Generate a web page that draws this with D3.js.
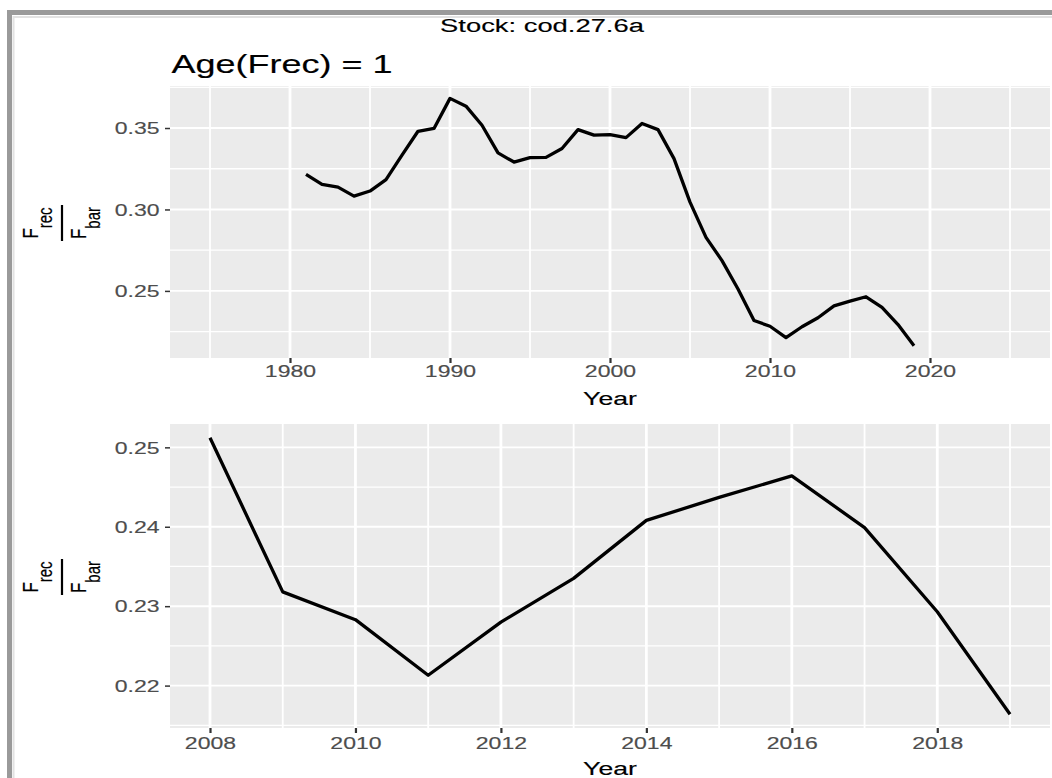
<!DOCTYPE html>
<html>
<head>
<meta charset="utf-8">
<script src="https://cdn.jsdelivr.net/npm/d3@7"></script>
<style>
  html, body { margin: 0; padding: 0; background: #fff; }
  svg { display: block; font-family: "Liberation Sans", Arial, sans-serif; }
</style>
</head>
<body>
<div id="chart"></div>
<script>
// Frec / Fbar by year, stock cod.27.6a, age 1
const years = [1981, 1982, 1983, 1984, 1985, 1986, 1987, 1988, 1989, 1990,
  1991, 1992, 1993, 1994, 1995, 1996, 1997, 1998, 1999, 2000,
  2001, 2002, 2003, 2004, 2005, 2006, 2007, 2008, 2009, 2010,
  2011, 2012, 2013, 2014, 2015, 2016, 2017, 2018, 2019];
const frecFbar = [0.3216, 0.3154, 0.3137, 0.3082, 0.3113, 0.3183, 0.3333, 0.3480, 0.3497, 0.3682,
  0.3634, 0.3517, 0.3347, 0.3291, 0.3318, 0.3320, 0.3374, 0.3490, 0.3456, 0.3460,
  0.3441, 0.3528, 0.3490, 0.3312, 0.3045, 0.2829, 0.2686, 0.2512, 0.2318, 0.2283,
  0.2213, 0.2280, 0.2335, 0.2408, 0.2437, 0.2464, 0.2399, 0.2293, 0.2164];

const topXLimits = [1975, 2025];
const topXTicks = [1980, 1990, 2000, 2010, 2020];
const topYTicks = [0.25, 0.30, 0.35];
const bottomFirstYear = 2008;
const bottomXTicks = [2008, 2010, 2012, 2014, 2016, 2018];
const bottomYTicks = [0.22, 0.23, 0.24, 0.25];

const stockTitle = 'Stock: cod.27.6a';
const ageTitle = 'Age(Frec) = 1';

const width = 1052, height = 778;
const sx = 1.44; // the picture is stretched sideways, so is the text
const left = 170, right = 1050;

const svg = d3.select('#chart').append('svg')
  .attr('width', width)
  .attr('height', height);

svg.append('rect').attr('width', width).attr('height', height).attr('fill', '#fff');

// grey frame round the figure (only top and left are in view)
svg.append('path')
  .attr('d', `M13.5,${height} V17 H${width}`)
  .attr('fill', 'none').attr('stroke', '#e2e2e2').attr('stroke-width', 2);
svg.append('path')
  .attr('d', `M9.5,${height} V12.5 H${width}`)
  .attr('fill', 'none').attr('stroke', '#9a9a9a').attr('stroke-width', 5);

const points = years.map((y, i) => ({ year: y, value: frecFbar[i] }));

// ggplot style: 5% expansion of the limits
const expand = ([a, b]) => { const p = (b - a) * 0.05; return [a - p, b + p]; };
const minorsOf = (majors, dom) => {
  const step = majors[1] - majors[0];
  return d3.range(majors[0] - step / 2, majors[majors.length - 1] + step, step)
    .map(v => +v.toFixed(6))
    .filter(v => v >= dom[0] && v <= dom[1]);
};

// the reference text is a touch heavy, a very thin outline gets close
const heavy = (sel, col) => sel.attr('stroke', col).attr('stroke-width', 0.15);

function stretchText(text, x) {
  text.attr('x', x / sx).attr('transform', `scale(${sx},1)`);
}

function fracLabel(cx, cy) {
  const g = svg.append('g')
    .attr('transform', `translate(${cx},${cy}) scale(1.3,1) rotate(-90)`);
  const part = (base, sub, v) => {
    const t = g.append('text').attr('text-anchor', 'middle').attr('y', v)
      .attr('font-size', 17).attr('fill', '#000').call(heavy, '#000');
    t.append('tspan').text(base);
    t.append('tspan').attr('font-size', 15).attr('dy', 11).text(sub);
    return t;
  };
  const num = part('F', 'rec', -18.6);
  const den = part('F', 'bar', 18.4);
  const len = Math.max(num.node().getComputedTextLength(), den.node().getComputedTextLength()) + 4;
  g.append('line')
    .attr('x1', -len / 2).attr('x2', len / 2)
    .attr('y1', 0).attr('y2', 0)
    .attr('stroke', '#000').attr('stroke-width', 1.7);
}

function drawPanel(cfg) {
  const x = d3.scaleLinear().domain(cfg.xDomain).range([left, right]);
  const y = d3.scaleLinear().domain(expand(d3.extent(cfg.data, d => d.value)))
    .range([cfg.bottom, cfg.top]);

  const g = svg.append('g');
  g.append('rect')
    .attr('x', left).attr('y', cfg.top)
    .attr('width', right - left).attr('height', cfg.bottom - cfg.top)
    .attr('fill', '#ebebeb');

  // minor grid
  g.selectAll('.xminor').data(minorsOf(cfg.xTicks, x.domain())).enter().append('line')
    .attr('x1', d => x(d)).attr('x2', d => x(d))
    .attr('y1', cfg.top).attr('y2', cfg.bottom)
    .attr('stroke', '#fff').attr('stroke-width', 1.8);
  g.selectAll('.yminor').data(minorsOf(cfg.yTicks, y.domain())).enter().append('line')
    .attr('x1', left).attr('x2', right)
    .attr('y1', d => y(d)).attr('y2', d => y(d))
    .attr('stroke', '#fff').attr('stroke-width', 1.3);
  // major grid
  g.selectAll('.xmajor').data(cfg.xTicks).enter().append('line')
    .attr('x1', d => x(d)).attr('x2', d => x(d))
    .attr('y1', cfg.top).attr('y2', cfg.bottom)
    .attr('stroke', '#fff').attr('stroke-width', 2.8);
  g.selectAll('.ymajor').data(cfg.yTicks).enter().append('line')
    .attr('x1', left).attr('x2', right)
    .attr('y1', d => y(d)).attr('y2', d => y(d))
    .attr('stroke', '#fff').attr('stroke-width', 1.9);

  // the series
  const line = d3.line().x(d => x(d.year)).y(d => y(d.value));
  g.append('path').datum(cfg.data)
    .attr('d', line)
    .attr('fill', 'none')
    .attr('stroke', '#000')
    .attr('stroke-width', 3.3)
    .attr('stroke-linejoin', 'round');

  // axes
  const xAxis = g.append('g')
    .attr('transform', `translate(0,${cfg.bottom})`)
    .call(d3.axisBottom(x).tickValues(cfg.xTicks).tickFormat(d3.format('d')).tickSize(5));
  const yAxis = g.append('g')
    .attr('transform', `translate(${left},0)`)
    .call(d3.axisLeft(y).tickValues(cfg.yTicks).tickFormat(d3.format('.2f')).tickSize(5));

  [xAxis, yAxis].forEach(a => {
    a.select('.domain').remove();
    a.selectAll('line').attr('stroke', '#333');
    a.selectAll('text').attr('font-size', 16).attr('fill', '#4d4d4d').call(heavy, '#4d4d4d');
  });
  xAxis.selectAll('line').attr('stroke-width', 2.2);
  yAxis.selectAll('line').attr('stroke-width', 1.5);
  xAxis.selectAll('text').attr('dy', null).attr('y', cfg.tickLabelGap)
    .attr('transform', `scale(${sx},1)`);
  yAxis.selectAll('text').attr('dy', '0.36em').call(stretchText, -10.5);

  // axis title
  svg.append('text')
    .attr('transform', `translate(${(left + right) / 2},${cfg.titleY}) scale(${sx},1)`)
    .attr('text-anchor', 'middle')
    .attr('font-size', 18.5)
    .attr('fill', '#000')
    .call(heavy, '#000')
    .text('Year');

  fracLabel(62, (cfg.top + cfg.bottom) / 2 + 1);
}

// headings
svg.append('text')
  .attr('transform', `translate(542,31.5) scale(${sx},1)`)
  .attr('text-anchor', 'middle')
  .attr('font-size', 19)
  .attr('fill', '#000')
  .call(heavy, '#000')
  .text(stockTitle);
svg.append('text')
  .attr('transform', `translate(171.5,73) scale(${sx},1)`)
  .attr('font-size', 25)
  .attr('fill', '#000')
  .call(heavy, '#000')
  .text(ageTitle);

drawPanel({
  data: points,
  xDomain: expand(topXLimits),
  xTicks: topXTicks,
  yTicks: topYTicks,
  top: 86, bottom: 358,
  tickLabelGap: 19.5,
  titleY: 405
});

const recent = points.filter(d => d.year >= bottomFirstYear);
drawPanel({
  data: recent,
  xDomain: expand(d3.extent(recent, d => d.year)),
  xTicks: bottomXTicks,
  yTicks: bottomYTicks,
  top: 424, bottom: 728,
  tickLabelGap: 21.5,
  titleY: 775
});
</script>
</body>
</html>
